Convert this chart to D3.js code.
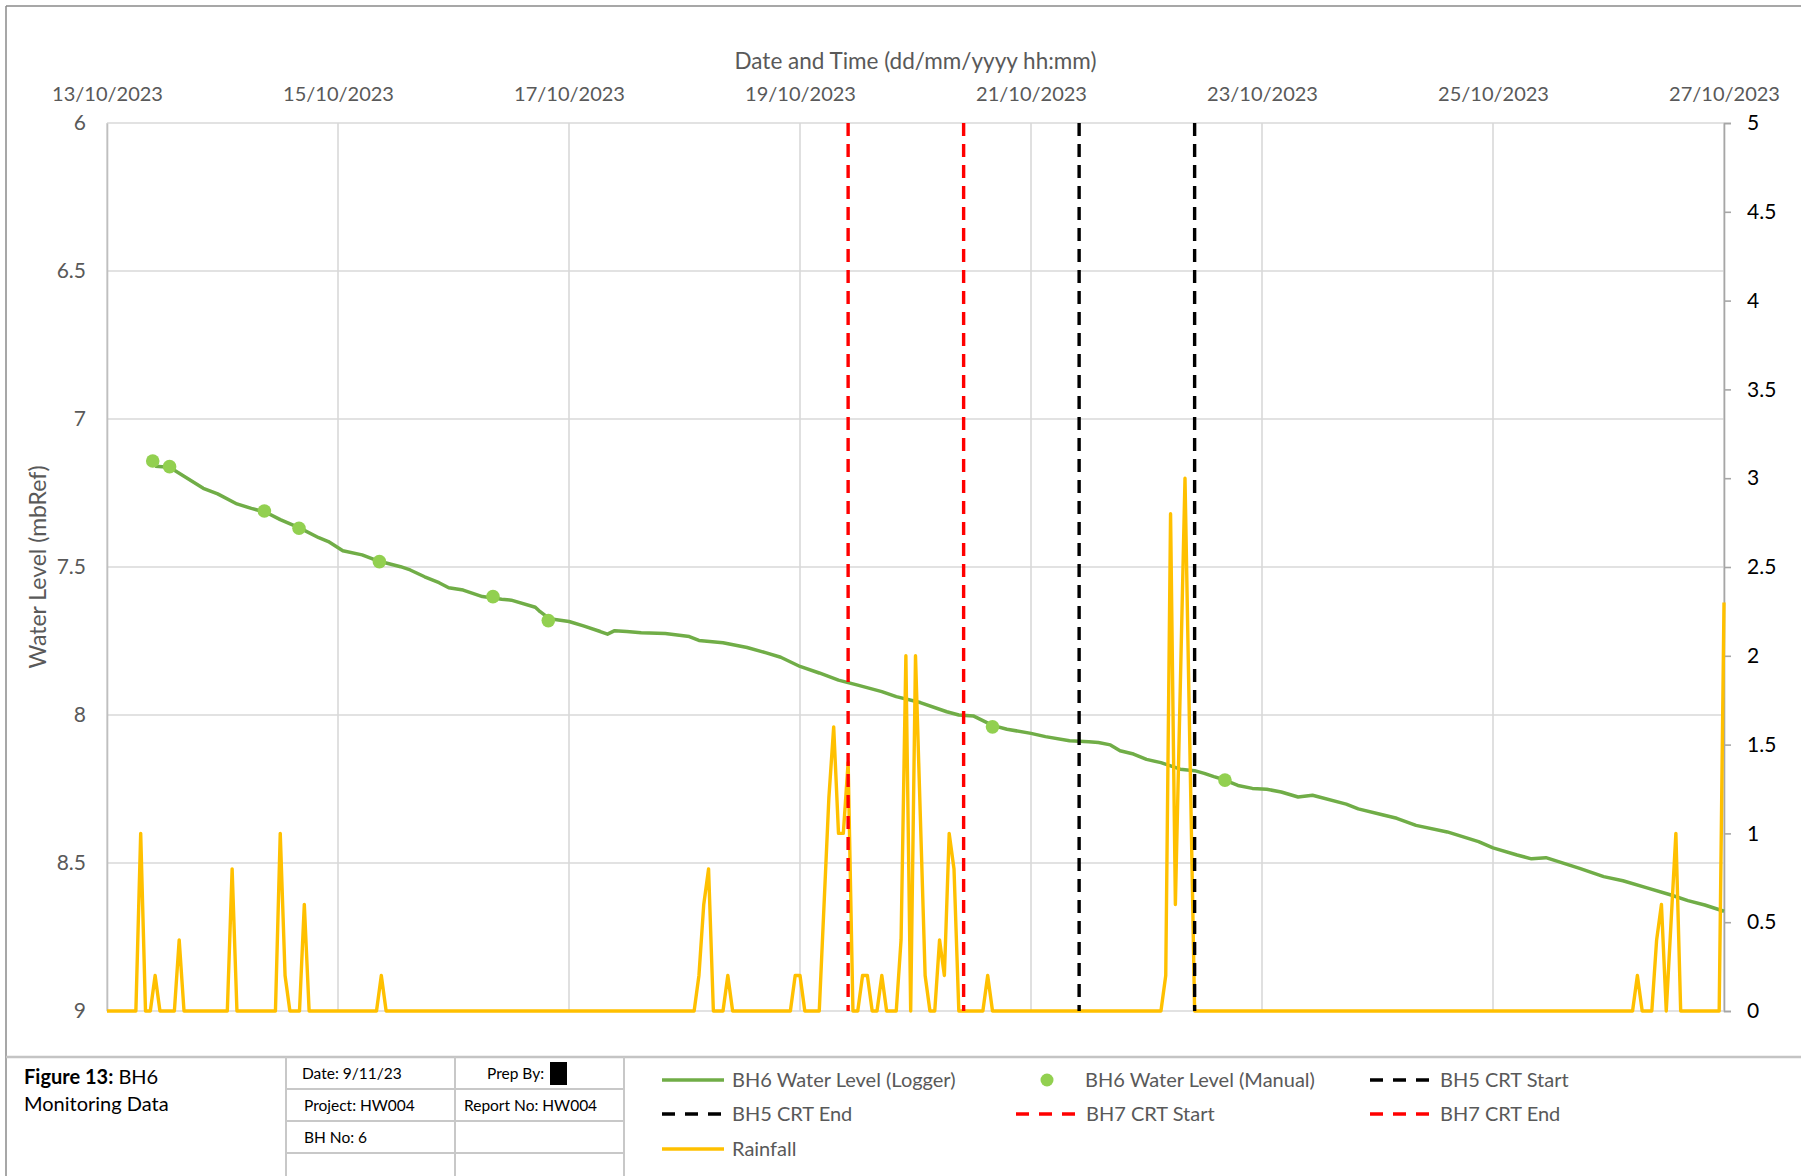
<!DOCTYPE html>
<html><head><meta charset="utf-8">
<script src="https://cdn.jsdelivr.net/npm/d3@7"></script>
<style>
html,body{margin:0;padding:0;background:#fff;}
svg{display:block;font-family:Lato,"Open Sans",sans-serif;}
</style></head><body>
<svg id="chart" width="1801" height="1176"></svg>
<script>
// ---------- DATA ----------
const startTime = "2023-10-13T00:00:00Z";
const xTickDates = ["2023-10-13","2023-10-15","2023-10-17","2023-10-19","2023-10-21","2023-10-23","2023-10-25","2023-10-27"];
const levelTicks = [6, 6.5, 7, 7.5, 8, 8.5, 9];
const rainTicks = [0, 0.5, 1, 1.5, 2, 2.5, 3, 3.5, 4, 4.5, 5];

// BH6 logger water level (hours since 13/10/2023 00:00, mbRef)
const loggerHours = [10,13,15,20,23,27,30,33,36,40,44,46,49,53,56,61,63,66,69,71,74,78,82,84,89,90,92,96,99,102.5,104,105.5,108,111,116,121,123,128,133,137,140,144,148,152,156,161,164,169,174.5,177,180,184,187,192,195,200,204,206,208.5,210.5,213.3,216,219,223,226,228,230,232,235,238,241,244,247.5,250.5,257.5,260,265,268,272,278.5,285,288,293,296,299,306,311,315,320,325,328.5,332,336];
const loggerLevel = [7.160,7.163,7.183,7.234,7.253,7.287,7.302,7.315,7.340,7.368,7.401,7.414,7.445,7.459,7.478,7.499,7.510,7.533,7.553,7.570,7.578,7.600,7.609,7.612,7.636,7.651,7.675,7.684,7.699,7.718,7.727,7.715,7.718,7.722,7.725,7.735,7.748,7.756,7.772,7.790,7.805,7.836,7.858,7.882,7.899,7.921,7.938,7.958,7.989,8.000,8.003,8.035,8.048,8.062,8.073,8.087,8.090,8.093,8.101,8.121,8.132,8.150,8.161,8.183,8.188,8.197,8.208,8.218,8.238,8.248,8.251,8.260,8.277,8.271,8.301,8.317,8.337,8.349,8.373,8.395,8.428,8.449,8.473,8.486,8.482,8.518,8.546,8.560,8.584,8.608,8.627,8.642,8.663];

// BH6 manual dips
const manualHours = [9.5,13.0,32.7,39.9,56.6,80.2,91.7,184,232.3];
const manualLevel = [7.142,7.161,7.311,7.369,7.482,7.600,7.681,8.040,8.220];

// Rainfall (hours since start, mm)
const rainHours = [0,6,7,8,9,10,11,14,15,16,25,26,27,35,36,37,38,40,41,42,56,57,58,122,123,124,125,126,128,129,130,142,143,144,145,148,149,150,151,152,153,154,155,156,157,158,159,160,161,162,164,165,166,167,168,169,170,171,172,173,174,175,176,177,182,183,184,219,220,221,222,223,224,225,226,317,318,319,321,322,323,324,325,326,327,335,336];
const rainMm = [0,0,1.0,0,0,0.2,0,0,0.4,0,0,0.8,0,0,1.0,0.2,0,0,0.6,0,0,0.2,0,0,0.2,0.6,0.8,0,0,0.2,0,0,0.2,0.2,0,0,0.6,1.2,1.6,1.0,1.0,1.4,0,0,0.2,0.2,0,0,0.2,0,0,0.4,2.0,0,2.0,1.1,0.2,0,0,0.4,0.2,1.0,0.8,0,0,0.2,0,0,0.2,2.8,0.6,1.8,3.0,1.5,0,0,0.2,0,0,0.4,0.6,0,0.5,1.0,0,0,2.3];

// Test events (vertical markers)
const eventNames = ["BH5 CRT Start","BH5 CRT End","BH7 CRT Start","BH7 CRT End"];
const eventHours = [202, 226, 154, 178];
const eventColors = ["#000000","#000000","#FF0000","#FF0000"];

// Title-block texts
const tableTexts = [["Date: 9/11/23","Prep By:"],["Project: HW004","Report No: HW004"],["BH No: 6",""],["",""]];

// ---------- CHART ----------
const svg = d3.select("#chart");
const W = 1801, H = 1176;
const P = {left:107, right:1724, top:123, bottom:1011};
const t0 = new Date(startTime);
const toDate = h => new Date(t0.getTime() + h*3600e3);
const parseDay = d3.utcParse("%Y-%m-%d");
const tickDates = xTickDates.map(parseDay);

const x = d3.scaleUtc().domain([tickDates[0], tickDates[tickDates.length-1]]).range([P.left, P.right]);
const yL = d3.scaleLinear().domain([6, 9]).range([P.top, P.bottom]);
const yR = d3.scaleLinear().domain([0, 5]).range([P.bottom, P.top]);

const GRAY_TXT = "#595959";

// frame
svg.append("rect").attr("x",0).attr("y",0).attr("width",W).attr("height",H).attr("fill","#fff");
svg.append("line").attr("x1",6).attr("x2",W).attr("y1",6).attr("y2",6).attr("stroke","#8a8a8a").attr("stroke-width",1.5);
svg.append("line").attr("x1",6).attr("x2",6).attr("y1",6).attr("y2",H).attr("stroke","#8a8a8a").attr("stroke-width",1.5);
svg.append("line").attr("x1",6).attr("x2",W).attr("y1",1057).attr("y2",1057).attr("stroke","#c4c4c4").attr("stroke-width",2.5);

// gridlines
const grid = svg.append("g");
grid.selectAll("line.h").data(levelTicks).join("line")
  .attr("x1",P.left).attr("x2",P.right).attr("y1",d=>yL(d)).attr("y2",d=>yL(d))
  .attr("stroke","#d9d9d9").attr("stroke-width",1.6);
grid.selectAll("line.v").data(tickDates).join("line")
  .attr("x1",d=>x(d)).attr("x2",d=>x(d)).attr("y1",P.top).attr("y2",P.bottom)
  .attr("stroke","#d9d9d9").attr("stroke-width",1.6);

// axes
const fmt = d3.utcFormat("%d/%m/%Y");
const gTop = svg.append("g").attr("transform",`translate(0,${P.top})`)
  .call(d3.axisTop(x).tickValues(tickDates).tickFormat(fmt).tickSize(0).tickPadding(22));
gTop.select(".domain").remove();
gTop.selectAll("text").attr("fill",GRAY_TXT).style("font-size","20px").style("font-family","Lato, sans-serif");

const gLeft = svg.append("g").attr("transform",`translate(${P.left},0)`)
  .call(d3.axisLeft(yL).tickValues(levelTicks).tickFormat(d3.format("")).tickSize(0).tickPadding(21));
gLeft.select(".domain").attr("stroke","#bfbfbf").attr("stroke-width",1.6);
gLeft.selectAll("text").attr("fill",GRAY_TXT).style("font-size","21px").style("font-family","Lato, sans-serif");

const gRight = svg.append("g").attr("transform",`translate(${P.right},0)`)
  .call(d3.axisRight(yR).tickValues(rainTicks).tickFormat(d3.format("")).tickSize(7).tickPadding(16));
gRight.select(".domain").attr("stroke","#a6a6a6").attr("stroke-width",1.6);
gRight.selectAll(".tick line").attr("stroke","#a6a6a6").attr("stroke-width",1.6);
gRight.selectAll("text").attr("fill","#000").style("font-size","21px").style("font-family","Lato, sans-serif");

// axis titles
svg.append("text").attr("x",(P.left+P.right)/2).attr("y",69).attr("text-anchor","middle")
  .attr("fill",GRAY_TXT).style("font-size","22.5px").text("Date and Time (dd/mm/yyyy hh:mm)");
svg.append("text").attr("transform","translate(46,567) rotate(-90)").attr("text-anchor","middle")
  .attr("fill",GRAY_TXT).style("font-size","23px").text("Water Level (mbRef)");

// logger line
const logger = loggerHours.map((h,i)=>({t:toDate(h), v:loggerLevel[i]}));
svg.append("path").datum(logger)
  .attr("d", d3.line().x(d=>x(d.t)).y(d=>yL(d.v)))
  .attr("fill","none").attr("stroke","#70AD47").attr("stroke-width",3.5).attr("stroke-linejoin","round");

// manual points
const manual = manualHours.map((h,i)=>({t:toDate(h), v:manualLevel[i]}));
svg.append("g").selectAll("circle").data(manual).join("circle")
  .attr("cx",d=>x(d.t)).attr("cy",d=>yL(d.v)).attr("r",6.8).attr("fill","#92D050");

// rainfall
const rain = rainHours.map((h,i)=>({t:toDate(h), v:rainMm[i]}));
svg.append("path").datum(rain)
  .attr("d", d3.line().x(d=>x(d.t)).y(d=>yR(d.v)))
  .attr("fill","none").attr("stroke","#FFC000").attr("stroke-width",3.4).attr("stroke-linejoin","round");

// event lines
const events = eventHours.map((h,i)=>({t:toDate(h), name:eventNames[i], c:eventColors[i]}));
svg.append("g").selectAll("line").data(events).join("line")
  .attr("x1",d=>x(d.t)).attr("x2",d=>x(d.t)).attr("y1",yL(6)).attr("y2",yL(9))
  .attr("stroke",d=>d.c).attr("stroke-width",3.4).attr("stroke-dasharray","13,8");

// ---------- TITLE BLOCK ----------
const colX = [286, 455, 624];
const rowY = [1057, 1089, 1121, 1153, 1185];
const tb = svg.append("g");
colX.forEach(cx => tb.append("line").attr("x1",cx).attr("x2",cx).attr("y1",1057).attr("y2",H).attr("stroke","#c8c8c8").attr("stroke-width",2));
rowY.slice(1,4).forEach(ry => tb.append("line").attr("x1",286).attr("x2",624).attr("y1",ry).attr("y2",ry).attr("stroke","#c8c8c8").attr("stroke-width",2));
const cellX = [[302,487],[304,464],[304,464],[304,464]];
tableTexts.forEach((row,ri)=>row.forEach((txt,ci)=>{
  if(!txt) return;
  tb.append("text").attr("x",cellX[ri][ci]).attr("y",(rowY[ri]+rowY[ri+1])/2+6)
    .attr("fill","#000").style("font-size","15.5px").text(txt);
}));
tb.append("rect").attr("x",550).attr("y",1062).attr("width",17).attr("height",23).attr("fill","#000");

const fig = svg.append("text").attr("x",24).attr("y",1084).attr("fill","#000").style("font-size","20px");
fig.append("tspan").attr("font-weight","bold").text("Figure 13:");
fig.append("tspan").text(" BH6");
svg.append("text").attr("x",24).attr("y",1111).attr("fill","#000").style("font-size","20px").text("Monitoring Data");

// ---------- LEGEND ----------
const legendItems = [
  {name:"BH6 Water Level (Logger)", type:"line", c:"#70AD47", col:0, row:0},
  {name:"BH6 Water Level (Manual)", type:"dot", c:"#92D050", col:1, row:0},
  {name:eventNames[0], type:"dash", c:eventColors[0], col:2, row:0},
  {name:eventNames[1], type:"dash", c:eventColors[1], col:0, row:1},
  {name:eventNames[2], type:"dash", c:eventColors[2], col:1, row:1},
  {name:eventNames[3], type:"dash", c:eventColors[3], col:2, row:1},
  {name:"Rainfall", type:"line", c:"#FFC000", col:0, row:2}
];
const legColX = [662, 1016, 1370];
const legRowY = [1080, 1114, 1149];
const lg = svg.append("g");
legendItems.forEach(it=>{
  const x0 = legColX[it.col], y0 = legRowY[it.row];
  if(it.type==="line"){
    lg.append("line").attr("x1",x0).attr("x2",x0+62).attr("y1",y0).attr("y2",y0).attr("stroke",it.c).attr("stroke-width",3.5);
  } else if(it.type==="dash"){
    lg.append("line").attr("x1",x0).attr("x2",x0+64).attr("y1",y0).attr("y2",y0).attr("stroke",it.c).attr("stroke-width",3.5).attr("stroke-dasharray","13,10");
  } else {
    lg.append("circle").attr("cx",x0+31).attr("cy",y0).attr("r",6.5).attr("fill",it.c);
  }
  lg.append("text").attr("x",x0+(it.type==="dot"?69:70)).attr("y",y0+7).attr("fill",GRAY_TXT).style("font-size","20px").text(it.name);
});
</script>
</body></html>
